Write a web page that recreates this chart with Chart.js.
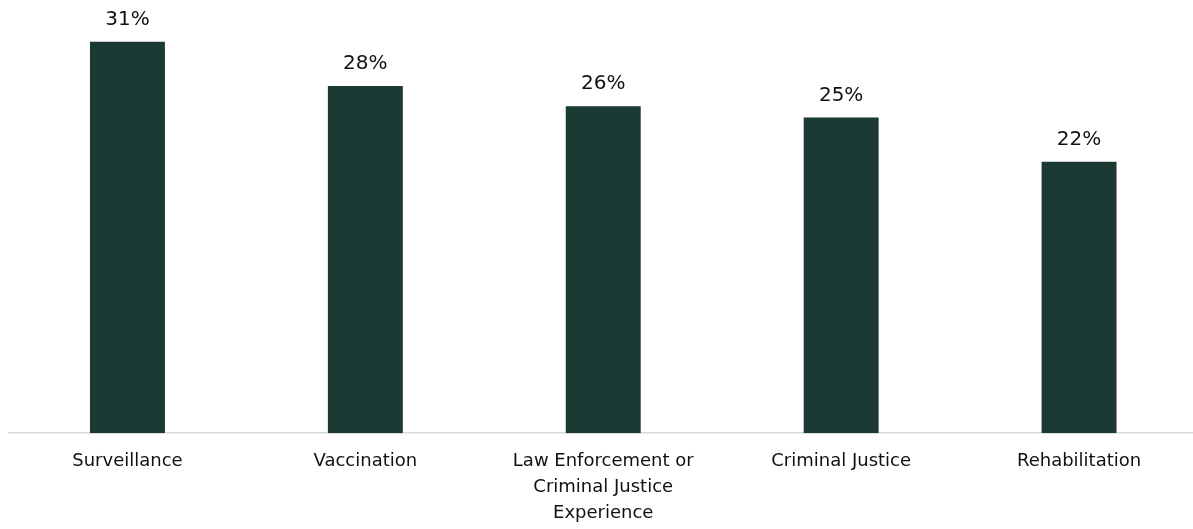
<!DOCTYPE html>
<html>
<head>
<meta charset="utf-8">
<script src="https://cdn.jsdelivr.net/npm/chart.js@4/dist/chart.umd.min.js"></script>
<style>
  html, body { margin: 0; padding: 0; background: #ffffff; overflow: hidden; }
  #wrap { position: relative; width: 1198px; height: 545px; }
</style>
</head>
<body>
<div id="wrap"><canvas id="c"></canvas></div>
<script>
const categories = [
  "Surveillance",
  "Vaccination",
  ["Law Enforcement or", "Criminal Justice", "Experience"],
  "Criminal Justice",
  "Rehabilitation"
];
const shares = [31, 27.5, 25.9, 25, 21.5];
const yMax = 34;

const barColor = "#1c3a34";
const textColor = "#111111";
const fontFamily = "'DejaVu Sans', 'Open Sans', sans-serif";

const valueLabels = {
  id: "valueLabels",
  afterDatasetsDraw(chart) {
    const ctx = chart.ctx;
    const meta = chart.getDatasetMeta(0);
    ctx.save();
    ctx.font = "20px " + fontFamily;
    ctx.fillStyle = textColor;
    ctx.textAlign = "center";
    ctx.textBaseline = "alphabetic";
    meta.data.forEach((bar, i) => {
      ctx.fillText(Math.round(shares[i]) + "%", bar.x, bar.y - 17);
    });
    ctx.restore();
  }
};

new Chart(document.getElementById("c"), {
  type: "bar",
  data: {
    labels: categories,
    datasets: [{
      data: shares,
      backgroundColor: barColor,
      borderWidth: 0,
      categoryPercentage: 1,
      barPercentage: 0.315
    }]
  },
  options: {
    responsive: true,
    maintainAspectRatio: false,
    animation: false,
    layout: { padding: { left: 8.5, right: 0, top: 4, bottom: 3.5 } },
    plugins: { legend: { display: false }, tooltip: { enabled: false } },
    scales: {
      x: {
        grid: { display: false, drawTicks: false },
        border: { display: true, color: "#d9d9d9", width: 1.5 },
        ticks: {
          color: textColor,
          padding: 15,
          maxRotation: 0,
          autoSkip: false,
          font: { family: fontFamily, size: 18, lineHeight: 1.45 }
        }
      },
      y: {
        display: false,
        min: 0,
        max: yMax
      }
    }
  },
  plugins: [valueLabels]
});
</script>
</body>
</html>
